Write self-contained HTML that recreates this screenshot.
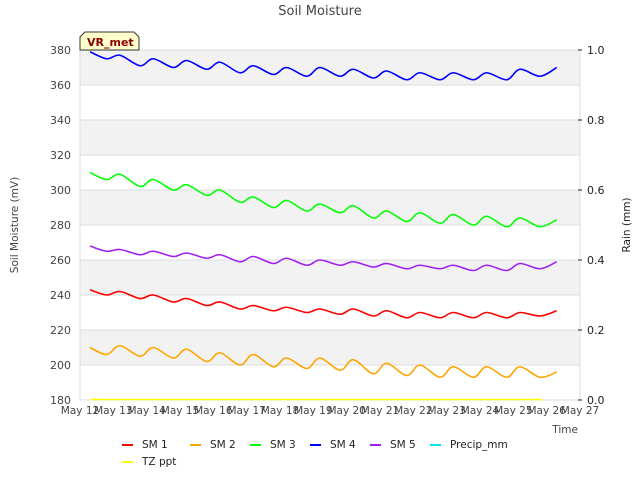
<!DOCTYPE html>
<html><head><meta charset="utf-8"><style>
body{margin:0;background:#fff;font-family:"Liberation Sans","DejaVu Sans",sans-serif;}
svg text{font-family:"DejaVu Sans","Liberation Sans",sans-serif;}
</style></head><body>
<svg id="chart" width="640" height="480" xmlns="http://www.w3.org/2000/svg">
<rect width="640" height="480" fill="#fff"/>
<g id="bands"></g>
<g id="grid"></g>
<rect x="80" y="50" width="500" height="350" fill="none" stroke="#ddd" stroke-width="1"/>
<g id="yaxis" font-size="11" fill="#444"></g>
<g id="raxis" font-size="11" fill="#222"></g>
<g id="xaxis" font-size="10.5" fill="#444"></g>
<g id="series"></g>
<text x="320" y="15" text-anchor="middle" font-size="13" fill="#444">Soil Moisture</text>
<text transform="translate(18,225) rotate(-90)" text-anchor="middle" font-size="10.5" fill="#444">Soil Moisture (mV)</text>
<text transform="translate(630,225) rotate(-90)" text-anchor="middle" font-size="10.5" fill="#222">Rain (mm)</text>
<text x="578" y="433" text-anchor="end" font-size="10.5" fill="#444">Time</text>
<g>
<path d="M80,50 L80,37 L85,32 L134,32 L139,37 L139,50 Z" fill="#ffffcc" stroke="#333" stroke-width="1"/>
<text x="87" y="46" font-size="11" font-weight="bold" fill="#8b0000">VR_met</text>
</g>
<g id="legend" font-size="10.5" fill="#222"></g>
</svg>
<script>
const yTicks=[180,200,220,240,260,280,300,320,340,360,380];
const rTicks=["0.0","0.2","0.4","0.6","0.8","1.0"];
const xLabels=["May 12","May 13","May 14","May 15","May 16","May 17","May 18","May 19","May 20","May 21","May 22","May 23","May 24","May 25","May 26","May 27"];
const times=[12.3,12.8,13.2,13.8,14.2,14.8,15.2,15.8,16.2,16.8,17.2,17.8,18.2,18.8,19.2,19.8,20.2,20.8,21.2,21.8,22.2,22.8,23.2,23.8,24.2,24.8,25.2,25.8,26.3];
const sm1=[243,240,242,238,240,236,238,234,236,232,234,231,233,230,232,229,232,228,231,227,230,227,230,227,230,227,230,228,231];
const sm2=[210,206,211,205,210,204,209,202,207,200,206,199,204,198,204,197,203,195,201,194,200,193,199,193,199,193,199,193,196];
const sm3=[310,306,309,302,306,300,303,297,300,293,296,290,294,288,292,287,291,284,288,282,287,281,286,280,285,279,284,279,283];
const sm4=[379,375,377,371,375,370,374,369,373,367,371,366,370,365,370,365,369,364,368,363,367,363,367,363,367,363,369,365,370];
const sm5=[268,265,266,263,265,262,264,261,263,259,262,258,261,257,260,257,259,256,258,255,257,255,257,254,257,254,258,255,259];
const tzTimes=[12.3,25.86];
const tzVals=[0,0];
const precipTimes=[];
const precipVals=[];
const NS="http://www.w3.org/2000/svg";
const X0=80,X1=580,Y0=400,Y1=50;
function xs(d){return X0+(d-12)/15*(X1-X0);}
function ys(v){return Y0-(v-180)/200*(Y0-Y1);}
function yr(v){return Y0-v*(Y0-Y1);}
function mk(tag,attrs,parent){const e=document.createElementNS(NS,tag);for(const k in attrs)e.setAttribute(k,attrs[k]);parent.appendChild(e);return e;}
const bands=document.getElementById('bands'),grid=document.getElementById('grid');
for(let i=0;i<yTicks.length-1;i++){
  if(i%2===1){const r=mk('rect',{x:X0,y:ys(yTicks[i+1]),width:X1-X0,height:ys(yTicks[i])-ys(yTicks[i+1]),fill:'#f2f2f2'},bands);
  
  }
}
const ya=document.getElementById('yaxis');
yTicks.forEach(v=>{
  const l=mk('line',{x1:X0,x2:X1,y1:ys(v),y2:ys(v),stroke:'#ddd'},grid);
  
  
  const t=mk('text',{x:71,y:ys(v)+4,'text-anchor':'end'},ya);t.textContent=v;
  
  
});
const ra=document.getElementById('raxis');
rTicks.forEach(s=>{
  const v=parseFloat(s);
  mk('line',{x1:X1-2,x2:X1+2,y1:yr(v),y2:yr(v),stroke:'#222'},ra);
  const t=mk('text',{x:587,y:yr(v)+4},ra);t.textContent=s;
  
  
});
const xa=document.getElementById('xaxis');
xLabels.forEach((s,i)=>{
  const t=mk('text',{x:xs(12+i),y:414,'text-anchor':'middle'},xa);t.textContent=s;
  
  
});
function smooth(pts){
  let d='M'+pts[0][0].toFixed(1)+','+pts[0][1].toFixed(1);
  for(let i=0;i<pts.length-1;i++){
    const p0=pts[Math.max(0,i-1)],p1=pts[i],p2=pts[i+1],p3=pts[Math.min(pts.length-1,i+2)];
    const c1=[p1[0]+(p2[0]-p0[0])/6,p1[1]+(p2[1]-p0[1])/6];
    const c2=[p2[0]-(p3[0]-p1[0])/6,p2[1]-(p3[1]-p1[1])/6];
    d+=' C'+c1.join(',')+' '+c2.join(',')+' '+p2.join(',');
  }
  return d;
}
const sg=document.getElementById('series');
const series=[['sm-1',sm1,'#ff0000'],['sm-2',sm2,'#ffa500'],['sm-3',sm3,'#00ff00'],['sm-4',sm4,'#0000ff'],['sm-5',sm5,'#a020f0']];
series.forEach(([n,vals,c])=>{
  const p=mk('path',{d:smooth(times.map((t,i)=>[xs(t),ys(vals[i])])),fill:'none',stroke:c,'stroke-width':1.6},sg);
  
  
});
const tz=mk('path',{d:'M'+tzTimes.map((t,i)=>xs(t)+','+(yr(tzVals[i])-0.5)).join(' L'),fill:'none',stroke:'#ffff00','stroke-width':1.6},sg);


const lg=document.getElementById('legend');
const items=[['SM 1','#ff0000',122,444],['SM 2','#ffa500',190,444],['SM 3','#00ff00',250,444],['SM 4','#0000ff',310,444],['SM 5','#a020f0',370,444],['Precip_mm','#00e5ee',430,444],['TZ ppt','#ffff00',122,461]];
items.forEach(([s,c,x,y])=>{
  const g=mk('g',{},lg);
  
  
  mk('line',{x1:x,x2:x+11,y1:y+1,y2:y+1,stroke:c,'stroke-width':2},g);
  const t=mk('text',{x:x+20,y:y+4},g);t.textContent=s;
});
</script>
</body></html>
